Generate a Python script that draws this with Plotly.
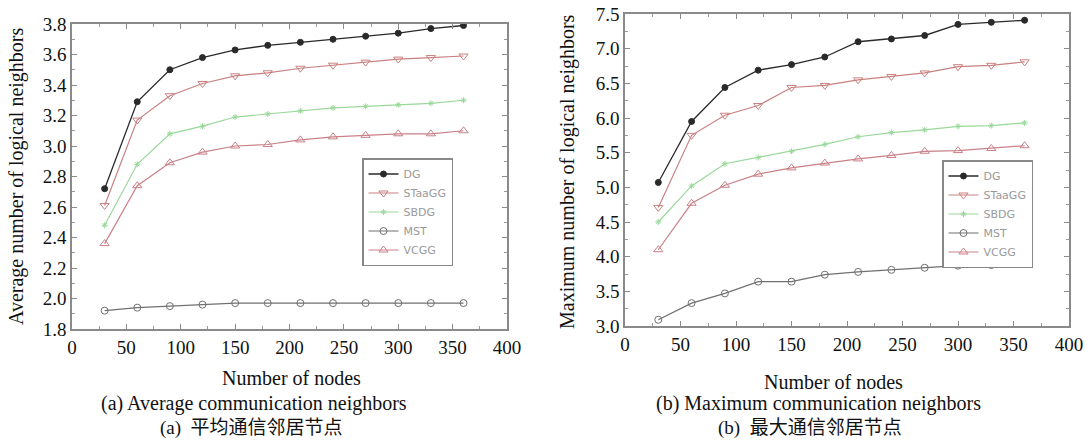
import plotly.graph_objects as go

nodes = [30, 60, 90, 120, 150, 180, 210, 240, 270, 300, 330, 360]

avg_DG = [2.72, 3.29, 3.50, 3.58, 3.63, 3.66, 3.68, 3.70, 3.72, 3.74, 3.77, 3.79]
avg_STaaGG = [2.61, 3.17, 3.33, 3.41, 3.46, 3.48, 3.51, 3.53, 3.55, 3.57, 3.58, 3.59]
avg_SBDG = [2.48, 2.88, 3.08, 3.13, 3.19, 3.21, 3.23, 3.25, 3.26, 3.27, 3.28, 3.30]
avg_MST = [1.92, 1.94, 1.95, 1.96, 1.97, 1.97, 1.97, 1.97, 1.97, 1.97, 1.97, 1.97]
avg_VCGG = [2.36, 2.74, 2.89, 2.96, 3.00, 3.01, 3.04, 3.06, 3.07, 3.08, 3.08, 3.10]

max_DG = [5.07, 5.95, 6.44, 6.69, 6.77, 6.88, 7.10, 7.14, 7.19, 7.35, 7.38, 7.41]
max_STaaGG = [4.71, 5.75, 6.04, 6.18, 6.44, 6.47, 6.55, 6.60, 6.65, 6.74, 6.76, 6.81]
max_SBDG = [4.50, 5.02, 5.34, 5.43, 5.52, 5.62, 5.73, 5.79, 5.83, 5.88, 5.89, 5.93]
max_MST = [3.09, 3.33, 3.47, 3.64, 3.64, 3.74, 3.78, 3.81, 3.84, 3.87, 3.88, 3.92]
max_VCGG = [4.10, 4.77, 5.03, 5.19, 5.28, 5.35, 5.41, 5.46, 5.52, 5.53, 5.56, 5.60]

names = ["DG", "STaaGG", "SBDG", "MST", "VCGG"]
styles = {
    "DG": dict(color="#2a2a2a", symbol="circle", size=6, lw=1.3),
    "STaaGG": dict(color="#c98080", symbol="triangle-down-open", size=8, lw=1.2),
    "SBDG": dict(color="#9ad89a", symbol="asterisk-open", size=5, lw=1.2),
    "MST": dict(color="#707070", symbol="circle-open", size=7, lw=1.2),
    "VCGG": dict(color="#c98088", symbol="triangle-up-open", size=8, lw=1.2),
}

fig = go.Figure()
avg = [avg_DG, avg_STaaGG, avg_SBDG, avg_MST, avg_VCGG]
mx = [max_DG, max_STaaGG, max_SBDG, max_MST, max_VCGG]
for xa, ya, lg, data in [("x", "y", "legend", avg), ("x2", "y2", "legend2", mx)]:
    for nm, ys in zip(names, data):
        s = styles[nm]
        fig.add_trace(go.Scatter(x=nodes, y=ys, name=nm, mode="lines+markers",
                                 line=dict(color=s["color"], width=s["lw"]),
                                 marker=dict(symbol=s["symbol"], size=s["size"], color=s["color"],
                                             line=dict(color=s["color"], width=1)),
                                 xaxis=xa, yaxis=ya, legend=lg))

W, H = 1091, 442
def px(x):
    return x / W
def py(y):
    return 1 - y / H

serif = "Liberation Serif"
tickfont = dict(family=serif, size=19, color="#111")

def axis(domain, rng, dtick, mdtick, anchor, fmt=None):
    d = dict(domain=domain, range=rng, dtick=dtick, anchor=anchor,
             showline=True, linecolor="#8a8a8a", linewidth=1.5, mirror="ticks",
             ticks="inside", ticklen=5, tickcolor="#8a8a8a", showgrid=False, zeroline=False,
             tickfont=tickfont,
             minor=dict(ticks="inside", ticklen=3, tickcolor="#9a9a9a", dtick=mdtick))
    if fmt:
        d["tickformat"] = fmt
    return d

legstyle = dict(xanchor="left", yanchor="top", bordercolor="#888", borderwidth=1.5, bgcolor="white",
                font=dict(family="DejaVu Sans", size=11, color="#9a9a9a"), tracegroupgap=0, itemwidth=30)

fig.update_layout(
    width=W, height=H, margin=dict(l=0, r=0, t=0, b=0, autoexpand=False),
    paper_bgcolor="white", plot_bgcolor="white",
    xaxis=axis([px(72), px(507)], [0, 400], 50, 25, "y"),
    yaxis=axis([py(329), py(24)], [1.8, 3.8], 0.2, 0.1, "x", ".1f"),
    xaxis2=axis([px(625), px(1069)], [0, 400], 50, 25, "y2"),
    yaxis2=axis([py(326), py(14)], [3.0, 7.5], 0.5, 0.25, "x2", ".1f"),
    legend=dict(x=px(362), y=py(158), **legstyle),
    legend2=dict(x=px(942), y=py(160), **legstyle),
    showlegend=True,
)

ann = [
    dict(text="Average number of logical neighbors", x=17, y=176, textangle=-90),
    dict(text="Maximum number of logical neighbors", x=568, y=172, textangle=-90),
    dict(text="Number of nodes", x=291, y=378, textangle=0),
    dict(text="Number of nodes", x=833, y=382, textangle=0),
    dict(text="(a) Average communication neighbors", x=254, y=403, textangle=0),
    dict(text="(b) Maximum communication neighbors", x=818, y=403, textangle=0),
]
for a in ann:
    fig.add_annotation(text=a["text"], x=px(a["x"]), y=py(a["y"]), xref="paper", yref="paper",
                       textangle=a["textangle"], showarrow=False, xanchor="center", yanchor="middle",
                       font=dict(family=serif, size=20, color="#111"))
fig.add_annotation(text="(a)  平均通信邻居节点", x=px(251), y=py(428), xref="paper", yref="paper",
                   showarrow=False, xanchor="center", yanchor="middle",
                   font=dict(family="Liberation Serif, Noto Sans CJK SC", size=19, color="#111"))
fig.add_annotation(text="(b)  最大通信邻居节点", x=px(810), y=py(428), xref="paper", yref="paper",
                   showarrow=False, xanchor="center", yanchor="middle",
                   font=dict(family="Liberation Serif, Noto Sans CJK SC", size=19, color="#111"))

fig.write_html("out.html", config={"displayModeBar": False},
               post_script="document.body.style.margin='0';document.body.style.padding='0';")
